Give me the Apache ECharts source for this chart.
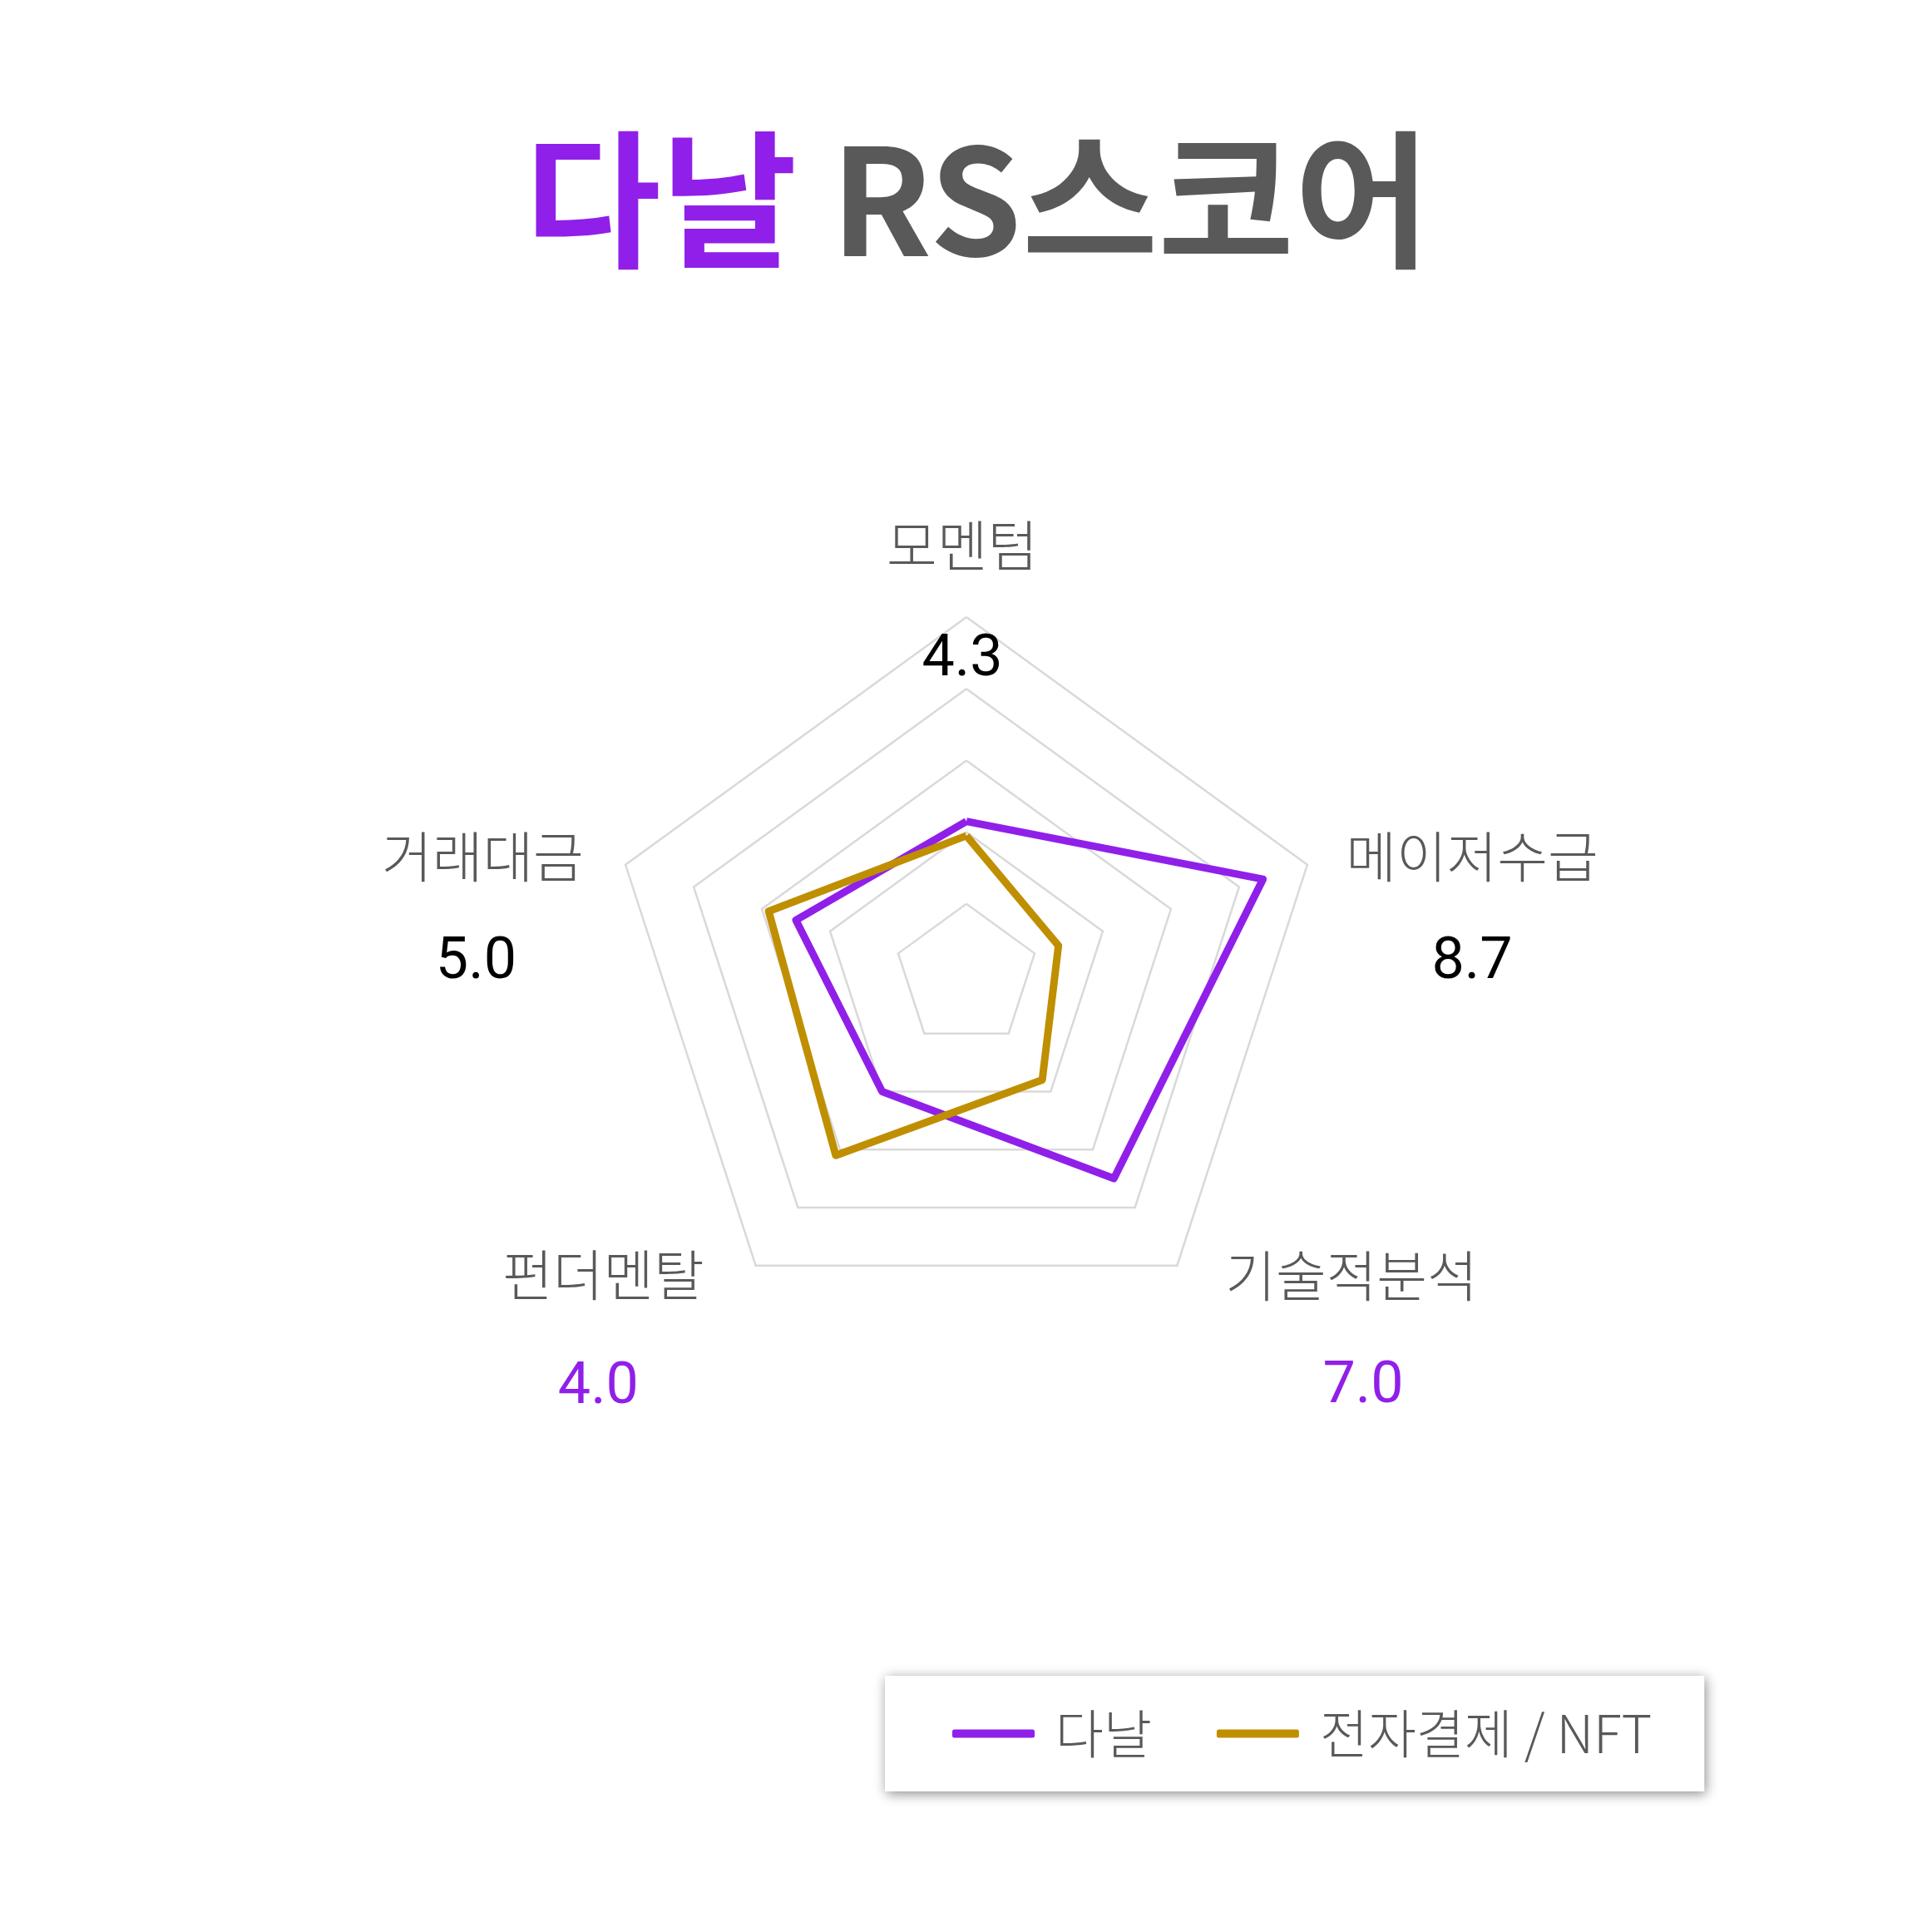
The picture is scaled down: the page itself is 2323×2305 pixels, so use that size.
<!DOCTYPE html>
<html>
<head>
<meta charset="utf-8">
<script src="https://cdn.jsdelivr.net/npm/echarts@6/dist/echarts.min.js"></script>
<style>
html,body{margin:0;padding:0;background:#fff;}
#chart{width:2323px;height:2305px;}
</style>
</head>
<body>
<div id="chart"></div>
<script>
// ---- data (indicator order follows ECharts radar: counter-clockwise from top) ----
var categories = ['모멘텀', '거래대금', '펀더멘탈', '기술적분석', '메이저수급'];
var maxValues = [10, 10, 10, 10, 10];
var seriesNames = ['다날', '전자결제 / NFT'];
var danalValues = [4.3, 5.0, 4.0, 7.0, 8.7];
var paymentValues = [3.9, 5.8, 6.2, 3.6, 2.7];

// ---- styles ----
var PURPLE = '#9020E9';
var GOLD = '#BF8F00';
var GREY = '#595959';
var valueColors = ['#000000', '#000000', PURPLE, PURPLE, '#000000'];
// label paddings per axis: [name padding, value padding]
var labelPads = [
  [[0, 10, 0, 0], [70, 10, 0, 0]],
  [[57, 133, 0, 0], [61, 149, 0, 0]],
  [[302, 113, 0, 0], [69, 125, 0, 0]],
  [[302, 0, 0, 109], [67, 0, 0, 137]],
  [[57, 0, 0, 129], [61, 0, 0, 129]]
];

var rich = {};
categories.forEach(function (c, i) {
  rich['n' + i] = {
    fontFamily: 'Noto Sans CJK KR', fontWeight: 300, fontSize: 66,
    color: GREY, align: 'center', padding: labelPads[i][0]
  };
  rich['v' + i] = {
    fontFamily: 'Roboto', fontSize: 70, color: valueColors[i],
    align: 'center', padding: labelPads[i][1]
  };
});

var chart = echarts.init(document.getElementById('chart'), null, {renderer: 'canvas'});
chart.setOption({
  backgroundColor: '#ffffff',
  animation: false,
  title: {
    text: '{a|다날}{b| RS스코어}',
    left: 'center',
    top: 135,
    textStyle: {
      rich: {
        a: {fontFamily: 'Noto Sans CJK KR', fontWeight: 'bold', fontSize: 178, lineHeight: 200, color: PURPLE, padding: [0, 0, 0, 28]},
        b: {fontFamily: 'Noto Sans CJK KR', fontWeight: 'bold', fontSize: 178, lineHeight: 200, color: GREY}
      }
    }
  },
  legend: {
    data: seriesNames,
    left: 1064,
    top: 2015,
    padding: [38, 63, 38, 81],
    itemGap: 78,
    itemWidth: 99,
    itemHeight: 10,
    icon: 'roundRect',
    backgroundColor: '#ffffff',
    shadowBlur: 14,
    shadowColor: 'rgba(0,0,0,0.45)',
    shadowOffsetX: 2,
    shadowOffsetY: 3,
    textStyle: {fontFamily: 'Noto Sans CJK KR', fontWeight: 300, fontSize: 63, color: GREY, padding: [0, 0, 0, 20]}
  },
  radar: {
    center: [1162, 1173],
    radius: 431,
    startAngle: 90,
    splitNumber: 5,
    shape: 'polygon',
    nameGap: -87,
    indicator: categories.map(function (c, i) { return {name: c, min: 0, max: maxValues[i]}; }),
    axisName: {
      formatter: function (name) {
        var i = categories.indexOf(name);
        return '{n' + i + '|' + name + '}\n{v' + i + '|' + danalValues[i].toFixed(1) + '}';
      },
      rich: rich
    },
    axisLine: {show: false},
    axisTick: {show: false},
    axisLabel: {show: false},
    splitArea: {show: false},
    splitLine: {lineStyle: {color: '#D9D9D9', width: 2.5}}
  },
  series: [{
    type: 'radar',
    symbol: 'none',
    lineStyle: {width: 9},
    data: [
      {name: seriesNames[0], value: danalValues,
        lineStyle: {color: PURPLE, width: 9}, itemStyle: {color: PURPLE}},
      {name: seriesNames[1], value: paymentValues,
        lineStyle: {color: GOLD, width: 9}, itemStyle: {color: GOLD}}
    ]
  }]
});
</script>
</body>
</html>
